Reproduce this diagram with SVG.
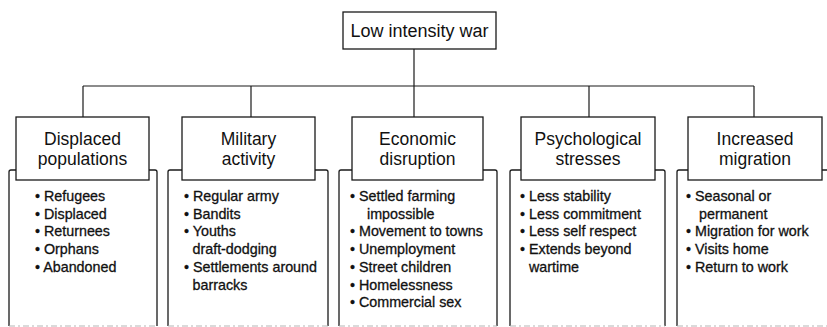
<svg xmlns="http://www.w3.org/2000/svg" width="827" height="327" viewBox="0 0 827 327">
  <defs>
    <style>
      .box { fill: #fff; stroke: #1a1a1a; stroke-width: 1.3; }
      .frame { fill: none; stroke: #1a1a1a; stroke-width: 1.3; }
      .edge { fill: none; stroke: #1a1a1a; stroke-width: 1.2; }
      .base { fill: none; stroke: #b5b5b5; stroke-width: 1; stroke-dasharray: 6 3 2 3; }
      .title { font-family: "Liberation Sans", Arial, sans-serif; font-size: 18px; fill: #111; text-anchor: middle; }
      .head { font-family: "Liberation Sans", Arial, sans-serif; font-size: 17.5px; fill: #111; text-anchor: middle; }
      .item { font-family: "Liberation Sans", Arial, sans-serif; font-size: 14.3px; fill: #111; stroke: #111; stroke-width: 0.3; }
    </style>
  </defs>
  <rect width="827" height="327" fill="#fff"/>

  <!-- connectors -->
  <g id="connectors">
    <path class="edge" d="M414 49 V117"/>
    <path class="edge" d="M83 86 H754"/>
    <path class="edge" d="M83 86 V117"/>
    <path class="edge" d="M251 86 V117"/>
    <path class="edge" d="M589 86 V117"/>
    <path class="edge" d="M754 86 V117"/>
  </g>

  <!-- root -->
  <g id="root">
    <rect class="box" x="343" y="12" width="153" height="37"/>
    <text class="title" x="419.5" y="36.5">Low intensity war</text>
  </g>

  <!-- Displaced populations -->
  <g id="displaced">
    <path class="frame" d="M16 170 H11 Q9 170 9 172 V326 M149 170 H155 Q157 170 157 172 V326"/>
    <line class="base" x1="9" y1="326" x2="157" y2="326"/>
    <rect class="box" x="16" y="117" width="133" height="63"/>
    <text class="head" x="82.5" y="145">Displaced</text>
    <text class="head" x="82.5" y="164.5">populations</text>
    <text class="item" x="35" y="201">• Refugees</text>
    <text class="item" x="35" y="218.7">• Displaced</text>
    <text class="item" x="35" y="236.4">• Returnees</text>
    <text class="item" x="35" y="254.1">• Orphans</text>
    <text class="item" x="35" y="271.8">• Abandoned</text>
  </g>

  <!-- Military activity -->
  <g id="military">
    <path class="frame" d="M182 170 H170 Q168 170 168 172 V326 M315 170 H326 Q328 170 328 172 V326"/>
    <line class="base" x1="168" y1="326" x2="328" y2="326"/>
    <rect class="box" x="182" y="117" width="133" height="63"/>
    <text class="head" x="248.5" y="145">Military</text>
    <text class="head" x="248.5" y="164.5">activity</text>
    <text class="item" x="184" y="201">• Regular army</text>
    <text class="item" x="184" y="218.7">• Bandits</text>
    <text class="item" x="184" y="236.4">• Youths</text>
    <text class="item" x="192.5" y="254.1">draft-dodging</text>
    <text class="item" x="184" y="271.8">• Settlements around</text>
    <text class="item" x="192.5" y="289.5">barracks</text>
  </g>

  <!-- Economic disruption -->
  <g id="economic">
    <path class="frame" d="M352 170 H341 Q339 170 339 172 V326 M483 170 H495 Q497 170 497 172 V326"/>
    <line class="base" x1="339" y1="326" x2="497" y2="326"/>
    <rect class="box" x="352" y="117" width="131" height="63"/>
    <text class="head" x="417.5" y="145">Economic</text>
    <text class="head" x="417.5" y="164.5">disruption</text>
    <text class="item" x="350" y="201">• Settled farming</text>
    <text class="item" x="367" y="218.7">impossible</text>
    <text class="item" x="350" y="236.4">• Movement to towns</text>
    <text class="item" x="350" y="254.1">• Unemployment</text>
    <text class="item" x="350" y="271.8">• Street children</text>
    <text class="item" x="350" y="289.5">• Homelessness</text>
    <text class="item" x="350" y="307.2">• Commercial sex</text>
  </g>

  <!-- Psychological stresses -->
  <g id="psychological">
    <path class="frame" d="M521 170 H512 Q510 170 510 172 V326 M655 170 H663 Q665 170 665 172 V326"/>
    <line class="base" x1="510" y1="326" x2="665" y2="326"/>
    <rect class="box" x="521" y="117" width="134" height="63"/>
    <text class="head" x="588" y="145">Psychological</text>
    <text class="head" x="588" y="164.5">stresses</text>
    <text class="item" x="520" y="201">• Less stability</text>
    <text class="item" x="520" y="218.7">• Less commitment</text>
    <text class="item" x="520" y="236.4">• Less self respect</text>
    <text class="item" x="520" y="254.1">• Extends beyond</text>
    <text class="item" x="529" y="271.8">wartime</text>
  </g>

  <!-- Increased migration -->
  <g id="migration">
    <path class="frame" d="M688 170 H679 Q677 170 677 172 V326 M822 170 H830"/>
    <line class="base" x1="677" y1="326" x2="827" y2="326"/>
    <rect class="box" x="688" y="117" width="134" height="63"/>
    <text class="head" x="755" y="145">Increased</text>
    <text class="head" x="755" y="164.5">migration</text>
    <text class="item" x="686" y="201">• Seasonal or</text>
    <text class="item" x="699" y="218.7">permanent</text>
    <text class="item" x="686" y="236.4">• Migration for work</text>
    <text class="item" x="686" y="254.1">• Visits home</text>
    <text class="item" x="686" y="271.8">• Return to work</text>
  </g>
</svg>
